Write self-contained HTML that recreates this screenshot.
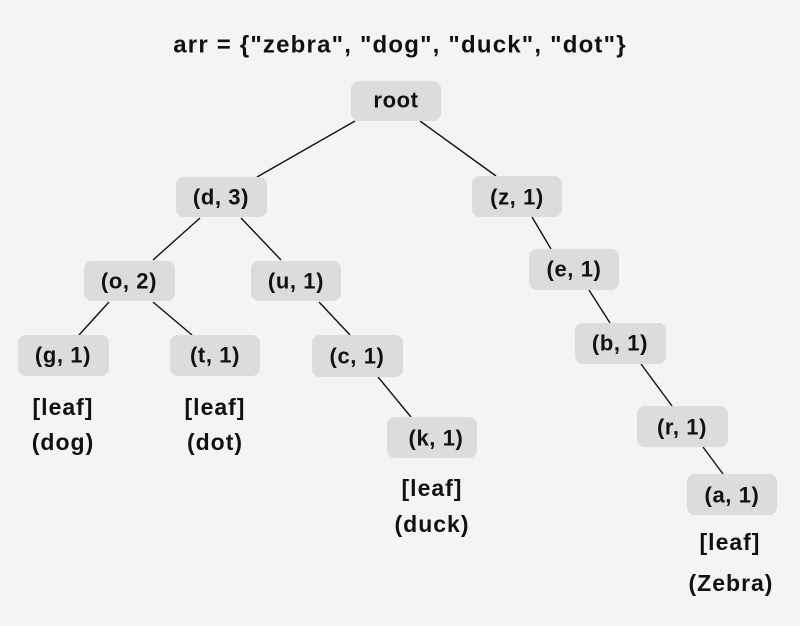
<!DOCTYPE html>
<html><head><meta charset="utf-8"><style>
html,body{margin:0;padding:0;background:#f4f4f4;}
svg{display:block;}
text{font-family:"Liberation Sans",sans-serif;font-size:22px;font-weight:bold;fill:#111;text-anchor:middle;dominant-baseline:central;letter-spacing:0.6px;}
text.l{font-size:23px;letter-spacing:1px;}
rect{fill:#dcdcdc;}
line{stroke:#111;stroke-width:1.4;}
</style></head><body>
<svg width="800" height="626" viewBox="0 0 800 626">
<rect x="0" y="0" width="800" height="626" style="fill:#f4f4f4"/>
<text x="400" y="45" style="font-size:24px;letter-spacing:1.2px">arr = {"zebra", "dog", "duck", "dot"}</text>
<g>
<line x1="355" y1="121" x2="257" y2="177"/>
<line x1="420" y1="121" x2="496" y2="176"/>
<line x1="200" y1="218" x2="153" y2="260"/>
<line x1="241" y1="218" x2="281" y2="260"/>
<line x1="109" y1="302" x2="79" y2="335"/>
<line x1="153" y1="302" x2="192" y2="335"/>
<line x1="319" y1="302" x2="350" y2="335"/>
<line x1="378" y1="377" x2="411" y2="417"/>
<line x1="532" y1="217" x2="551" y2="249"/>
<line x1="589" y1="290" x2="610" y2="323"/>
<line x1="641" y1="364" x2="672" y2="406"/>
<line x1="703" y1="447" x2="723" y2="474"/>
</g>
<g>
<rect x="351" y="81" width="90" height="40" rx="8"/><text x="396" y="100">root</text>
<rect x="176" y="177" width="91" height="40" rx="8"/><text x="221" y="197">(d, 3)</text>
<rect x="472" y="176" width="90" height="41" rx="8"/><text x="517" y="197">(z, 1)</text>
<rect x="84" y="261" width="91" height="40" rx="8"/><text x="129" y="281">(o, 2)</text>
<rect x="251" y="261" width="90" height="40" rx="8"/><text x="296" y="281">(u, 1)</text>
<rect x="529" y="249" width="90" height="41" rx="8"/><text x="574" y="269">(e, 1)</text>
<rect x="18" y="335" width="91" height="41" rx="8"/><text x="63" y="355">(g, 1)</text>
<rect x="170" y="335" width="90" height="41" rx="8"/><text x="215" y="355">(t, 1)</text>
<rect x="312" y="335" width="91" height="42" rx="8"/><text x="357" y="356">(c, 1)</text>
<rect x="575" y="323" width="91" height="41" rx="8"/><text x="620" y="343">(b, 1)</text>
<rect x="387" y="417" width="90" height="41" rx="8"/><text x="436" y="438">(k, 1)</text>
<rect x="637" y="406" width="91" height="41" rx="8"/><text x="682" y="427">(r, 1)</text>
<rect x="687" y="474" width="90" height="41" rx="8"/><text x="732" y="495">(a, 1)</text>
</g>
<text class="l" x="63" y="407">[leaf]</text><text class="l" x="63" y="442">(dog)</text>
<text class="l" x="215" y="407">[leaf]</text><text class="l" x="215" y="442">(dot)</text>
<text class="l" x="432" y="488">[leaf]</text><text class="l" x="432" y="524">(duck)</text>
<text class="l" x="730" y="542">[leaf]</text><text class="l" x="731" y="583">(Zebra)</text>
</svg>
</body></html>
